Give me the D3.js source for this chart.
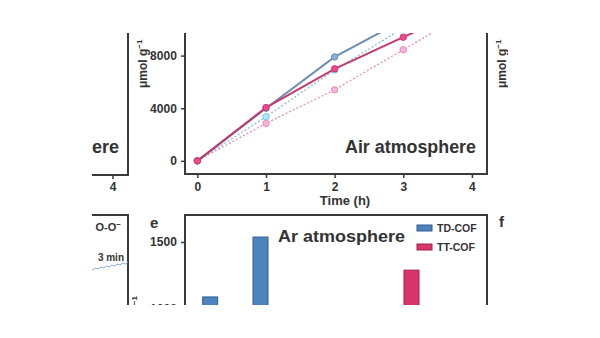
<!DOCTYPE html>
<html>
<head>
<meta charset="utf-8">
<script src="https://cdn.jsdelivr.net/npm/d3@7"></script>
<style>
  body { margin: 0; background: #fff; }
  text { font-family: "Liberation Sans", Arial, sans-serif; font-weight: bold; fill: #333; }
</style>
</head>
<body>
<div id="main"></div>
<script>
// ---- data ----
let hours = [0, 1, 2, 3, 4]
let tdAir = [0, 4000, 7900, 10700, 13300]      // solid blue
let ttAir = [0, 4050, 7000, 9400, 11800]       // solid pink
let tdDot = [0, 3350, 6900, 10100, 13400]      // dotted light blue
let ttDot = [0, 2850, 5400, 8450, 11500]       // dotted light pink
let yTicksTop = [0, 4000, 8000]

let barSlots = ["s1", "s2", "s3", "s4", "s5", "s6"]
let tdBars = [1090, 1537, null, null, null, null]
let ttBars = [null, null, null, null, 1290, null]
let yTicksBar = [1000, 1500]
let legendNames = ["TD-COF", "TT-COF"]

let eprY = [2, 1, 3, 2, 4, 3, 5, 4, 6, 5, 7, 6, 8, 7, 9]

let width = 600, height = 338
let colors = {td: "#6d8db3", tt: "#c43a70", tdL: "#86bfd8", ttL: "#e78db3",
              barTd: "#4d84bd", barTt: "#d8356c", axis: "#3a3a3a"}

let svg = d3.select("#main").append("svg")
    .attr("width", width)
    .attr("height", height)

svg.append("rect").attr("width", width).attr("height", height).attr("fill", "#fff")

// the visible window of the figure
svg.append("clipPath").attr("id", "win")
    .append("rect").attr("x", 92).attr("y", 33).attr("width", 416).attr("height", 272)

let fig = svg.append("g").attr("clip-path", "url(#win)")

// ---------- top middle panel ----------
let x = d3.scaleLinear().domain([-0.18, 4.22]).range([185, 487])
let y = d3.scaleLinear().domain([-1000, 12000]).range([174, 3])

let topPanel = fig.append("g")
svg.append("clipPath").attr("id", "plotTop")
    .append("rect").attr("x", 185).attr("y", 3).attr("width", 302).attr("height", 171)

topPanel.append("g")
    .attr("transform", "translate(0,174)")
    .call(d3.axisBottom(x).tickValues(hours).tickSize(4).tickSizeOuter(0).tickFormat(d3.format("d")))
    .call(g => g.select(".domain").remove())
    .call(g => g.selectAll("text").attr("font-size", 12).attr("dy", "0.85em"))

topPanel.append("g")
    .attr("transform", "translate(185,0)")
    .call(d3.axisLeft(y).tickValues(yTicksTop).tickSize(4).tickFormat(d3.format("d")))
    .call(g => g.select(".domain").remove())
    .call(g => g.selectAll("text").attr("font-size", 12).attr("dx", "-0.1em"))

topPanel.selectAll(".tick line").attr("stroke", colors.axis).attr("stroke-width", 1.5)
topPanel.selectAll(".tick text").attr("fill", "#333").attr("font-family", "Liberation Sans, Arial").attr("font-weight", "bold")

let lines = topPanel.append("g").attr("clip-path", "url(#plotTop)")
let line = d3.line().x((d, i) => x(hours[i])).y(d => y(d))
let series = [
    {v: ttDot, c: colors.ttL, dash: "2,2", w: 1.3},
    {v: tdDot, c: colors.tdL, dash: "2,2", w: 1.3},
    {v: tdAir, c: colors.td, dash: null, w: 2},
    {v: ttAir, c: colors.tt, dash: null, w: 2}
]
series.forEach(s => {
    lines.append("path")
        .datum(s.v)
        .attr("d", line)
        .attr("fill", "none")
        .attr("stroke", s.c)
        .attr("stroke-width", s.w)
        .attr("stroke-dasharray", s.dash)
    lines.selectAll(null)
        .data(s.v)
        .enter()
        .append("circle")
        .attr("cx", (d, i) => x(hours[i]))
        .attr("cy", d => y(d))
        .attr("r", 3.2)
        .attr("fill", d3.color(s.c).brighter(0.6))
        .attr("stroke", s.c)
        .attr("stroke-width", 1)
})

topPanel.append("rect")
    .attr("x", 185).attr("y", 3).attr("width", 302).attr("height", 171)
    .attr("fill", "none").attr("stroke", colors.axis).attr("stroke-width", 2)

topPanel.append("text")
    .attr("x", 476).attr("y", 153)
    .attr("text-anchor", "end")
    .attr("font-size", 18)
    .attr("textLength", 131).attr("lengthAdjust", "spacingAndGlyphs")
    .text("Air atmosphere")

topPanel.append("text")
    .attr("x", 345).attr("y", 205)
    .attr("text-anchor", "middle")
    .attr("font-size", 13)
    .text("Time (h)")

topPanel.append("text")
    .attr("transform", "translate(147,88) rotate(-90)")
    .attr("font-size", 12)
    .html("μmol g<tspan dy='-5' font-size='8'>−1</tspan>")

// ---------- left neighbour panel (cut) ----------
let leftPanel = fig.append("g")
leftPanel.append("rect")
    .attr("x", 20).attr("y", 3).attr("width", 108).attr("height", 172)
    .attr("fill", "none").attr("stroke", colors.axis).attr("stroke-width", 2)
leftPanel.append("line").attr("x1", 113).attr("x2", 113).attr("y1", 175).attr("y2", 179)
    .attr("stroke", colors.axis).attr("stroke-width", 1.5)
leftPanel.append("text").attr("x", 113).attr("y", 191).attr("text-anchor", "middle")
    .attr("font-size", 12).text("4")
leftPanel.append("text").attr("x", 119).attr("y", 153).attr("text-anchor", "end")
    .attr("font-size", 18).text("O₂ atmosphere")

leftPanel.append("rect")
    .attr("x", 20).attr("y", 215).attr("width", 108).attr("height", 120)
    .attr("fill", "none").attr("stroke", colors.axis).attr("stroke-width", 2)
leftPanel.append("text").attr("x", 121).attr("y", 231).attr("text-anchor", "end")
    .attr("font-size", 11).html("O-O<tspan dy='-4' font-size='8'>−</tspan>")
leftPanel.append("text").attr("x", 124).attr("y", 261).attr("text-anchor", "end")
    .attr("font-size", 10).text("3 min")

let ex = d3.scaleLinear().domain([0, eprY.length - 1]).range([90, 128])
let ey = d3.scaleLinear().domain([0, 9]).range([271, 262])
leftPanel.append("path")
    .datum(eprY)
    .attr("d", d3.line().x((d, i) => ex(i)).y(d => ey(d)))
    .attr("fill", "none").attr("stroke", "#7fa9d6").attr("stroke-width", 1)

// ---------- right neighbour panel (cut) ----------
fig.append("text")
    .attr("transform", "translate(506,88) rotate(-90)")
    .attr("font-size", 12)
    .html("μmol g<tspan dy='-5' font-size='8'>−1</tspan>")
fig.append("text").attr("x", 499).attr("y", 227).attr("font-size", 15).text("f")

// ---------- panel e (bars) ----------
let bx = d3.scaleBand().domain(barSlots).range([185, 487])
let by = d3.scaleLinear().domain([1000, 1500]).range([309, 242])

let barPanel = fig.append("g")
barPanel.append("g")
    .attr("transform", "translate(185,0)")
    .call(d3.axisLeft(by).tickValues(yTicksBar).tickSize(4).tickFormat(d3.format("d")))
    .call(g => g.select(".domain").remove())
    .call(g => g.selectAll("text").attr("font-size", 12).attr("dx", "-0.1em")
        .attr("fill", "#333").attr("font-family", "Liberation Sans, Arial").attr("font-weight", "bold"))
    .call(g => g.selectAll(".tick line").attr("stroke", colors.axis).attr("stroke-width", 1.5))

let barW = 15
barPanel.selectAll(".td")
    .data(barSlots.map((s, i) => ({s: s, v: tdBars[i]})).filter(d => d.v != null))
    .enter().append("rect")
    .attr("x", d => bx(d.s) + bx.bandwidth() / 2 - barW / 2)
    .attr("y", d => by(d.v))
    .attr("width", barW)
    .attr("height", d => 340 - by(d.v))
    .attr("fill", colors.barTd).attr("stroke", "#2f5f90").attr("stroke-width", 1)
barPanel.selectAll(".tt")
    .data(barSlots.map((s, i) => ({s: s, v: ttBars[i]})).filter(d => d.v != null))
    .enter().append("rect")
    .attr("x", d => bx(d.s) + bx.bandwidth() / 2 - barW / 2)
    .attr("y", d => by(d.v))
    .attr("width", barW)
    .attr("height", d => 340 - by(d.v))
    .attr("fill", colors.barTt).attr("stroke", "#a51f4e").attr("stroke-width", 1)

barPanel.append("rect")
    .attr("x", 185).attr("y", 215).attr("width", 302).attr("height", 130)
    .attr("fill", "none").attr("stroke", colors.axis).attr("stroke-width", 2)

barPanel.append("text").attr("x", 278).attr("y", 242)
    .attr("font-size", 17)
    .attr("textLength", 127).attr("lengthAdjust", "spacingAndGlyphs")
    .text("Ar atmosphere")

let legend = barPanel.selectAll(".leg")
    .data(legendNames)
    .enter().append("g")
    .attr("transform", (d, i) => "translate(417," + (225 + i * 19) + ")")
legend.append("rect")
    .attr("width", 15).attr("height", 6)
    .attr("fill", (d, i) => i ? colors.barTt : colors.barTd)
    .attr("stroke", (d, i) => i ? "#a51f4e" : "#2f5f90")
legend.append("text")
    .attr("x", 20).attr("y", 7)
    .attr("font-size", 10.5)
    .text(d => d)

barPanel.append("text").attr("x", 150).attr("y", 228).attr("font-size", 15).text("e")
barPanel.append("text")
    .attr("transform", "translate(141,296) rotate(-90)")
    .attr("font-size", 11).attr("text-anchor", "end")
    .html("μmol g<tspan dy='-4' font-size='8'>−1</tspan>")
</script>
</body>
</html>
